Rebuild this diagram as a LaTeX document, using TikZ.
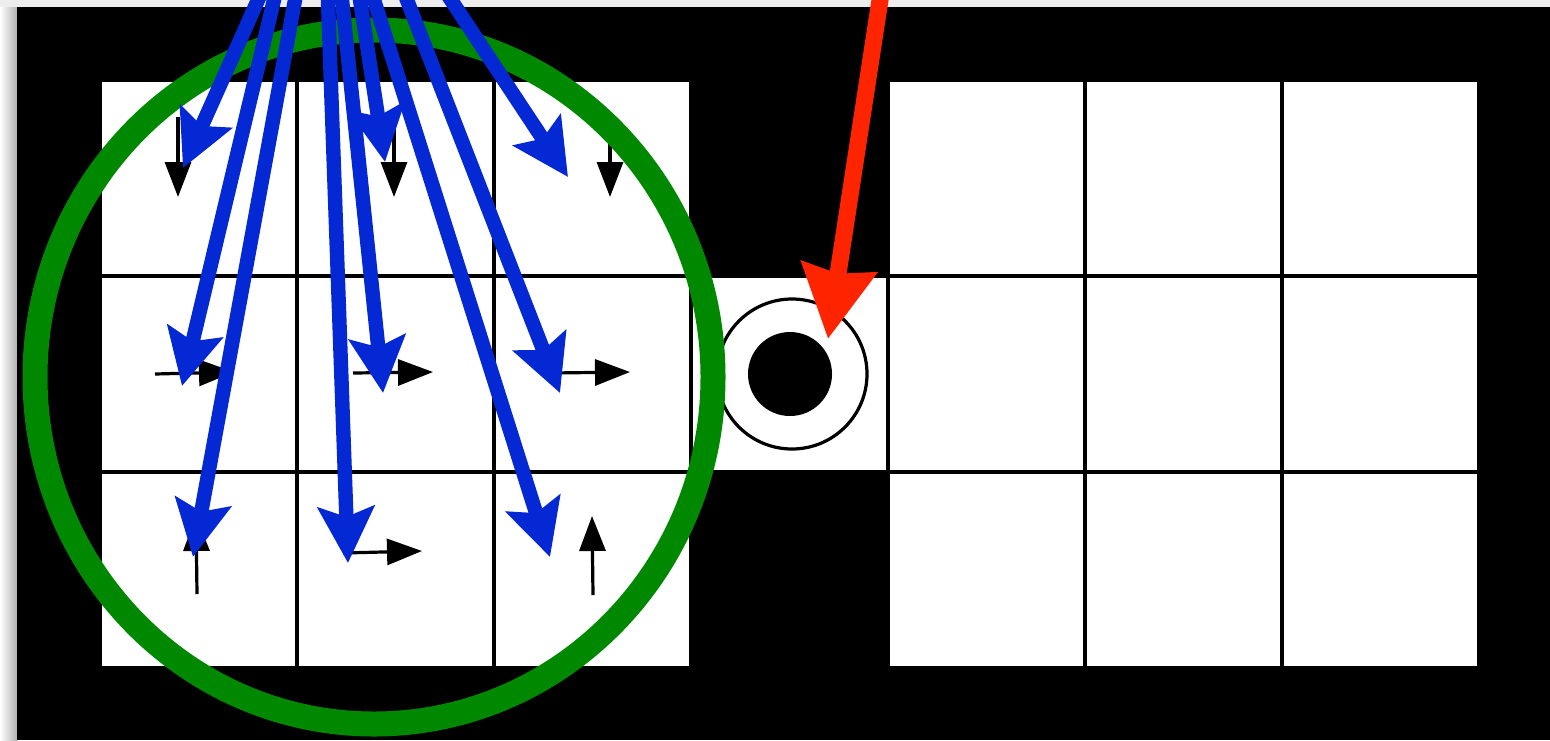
\documentclass[tikz,border=0pt]{standalone}
\usetikzlibrary{arrows.meta}
\definecolor{gblue}{RGB}{3,40,212}
\definecolor{ggreen}{RGB}{0,137,0}
\definecolor{gred}{RGB}{255,36,0}
\begin{document}
\begin{tikzpicture}[x=0.5pt,y=-0.5pt,
  cell/.style={fill=white,draw=black,line width=1.7pt},
  smallarrow/.style={draw=black,line width=1.6pt,-{Triangle[length=17.5pt,width=13pt]}},
  bluearrow/.style={draw=gblue,line width=7.2pt,-{Stealth[length=28pt,width=28pt,inset=5pt]}},
  redarrow/.style={draw=gred,line width=8.5pt,-{Stealth[length=36pt,width=37pt,inset=3pt]}}]
\useasboundingbox (0,0) rectangle (1550,740);
\clip (0,0) rectangle (1550,740);
% background and frame
\fill[white] (0,0) rectangle (1550,740);
\fill[gray!14] (0,0) rectangle (1550,7);
\shade[left color=white,right color=gray!60] (0,7) rectangle (17,740);
\fill[black] (17,7) rectangle (1550,740);
% cells
\foreach \i in {0,1,2,4,5,6}{
  \foreach \j in {0,1,2}{
    \draw[cell] ({100+197*\i},{80+196*\j}) rectangle +(197,196);
  }
}
\draw[cell] (691,276) rectangle +(197,196);
% target in middle cell
\draw[black,line width=1.6pt] (792,374) circle [radius=37.5pt];
\fill[black] (790,374) circle [radius=21pt];
% small black arrows
\coordinate (a1s) at (178,117); \coordinate (a1e) at (178,197);
\coordinate (a2s) at (394,117); \coordinate (a2e) at (394,197);
\coordinate (a3s) at (610,117); \coordinate (a3e) at (610,197);
\coordinate (a4s) at (155,374); \coordinate (a4e) at (234,372);
\coordinate (a5s) at (353,373); \coordinate (a5e) at (433,372);
\coordinate (a6s) at (552,373); \coordinate (a6e) at (630,372);
\coordinate (a7s) at (197,594); \coordinate (a7e) at (196,516);
\coordinate (a8s) at (343,553); \coordinate (a8e) at (422,551);
\coordinate (a9s) at (593,595); \coordinate (a9e) at (592,516);
\foreach \k in {1,...,9}{\draw[smallarrow] (a\k s) -- (a\k e);}
% green circle
\draw[ggreen,line width=12.5pt] (374,377) ellipse [x radius=169.5pt, y radius=173.5pt];
% blue arrows
\coordinate (b1s) at (271.4,-30); \coordinate (b1e) at (183,168);
\coordinate (b2s) at (281.1,-30); \coordinate (b2e) at (182,386);
\coordinate (b3s) at (300.5,-30); \coordinate (b3e) at (193,557);
\coordinate (b4s) at (326.9,-30); \coordinate (b4e) at (348,563);
\coordinate (b5s) at (338.9,-30); \coordinate (b5e) at (383,393);
\coordinate (b6s) at (355.4,-30); \coordinate (b6e) at (385,162);
\coordinate (b7s) at (395.3,-30); \coordinate (b7e) at (560,393);
\coordinate (b8s) at (364.5,-30); \coordinate (b8e) at (550,557);
\coordinate (b9s) at (431.2,-30); \coordinate (b9e) at (568,177);
\foreach \k in {1,...,9}{\draw[bluearrow] (b\k s) -- (b\k e);}
% red arrow
\coordinate (rs) at (884.6,-30); \coordinate (re) at (828,339);
\draw[redarrow] (rs) -- (re);
\end{tikzpicture}
\end{document}
